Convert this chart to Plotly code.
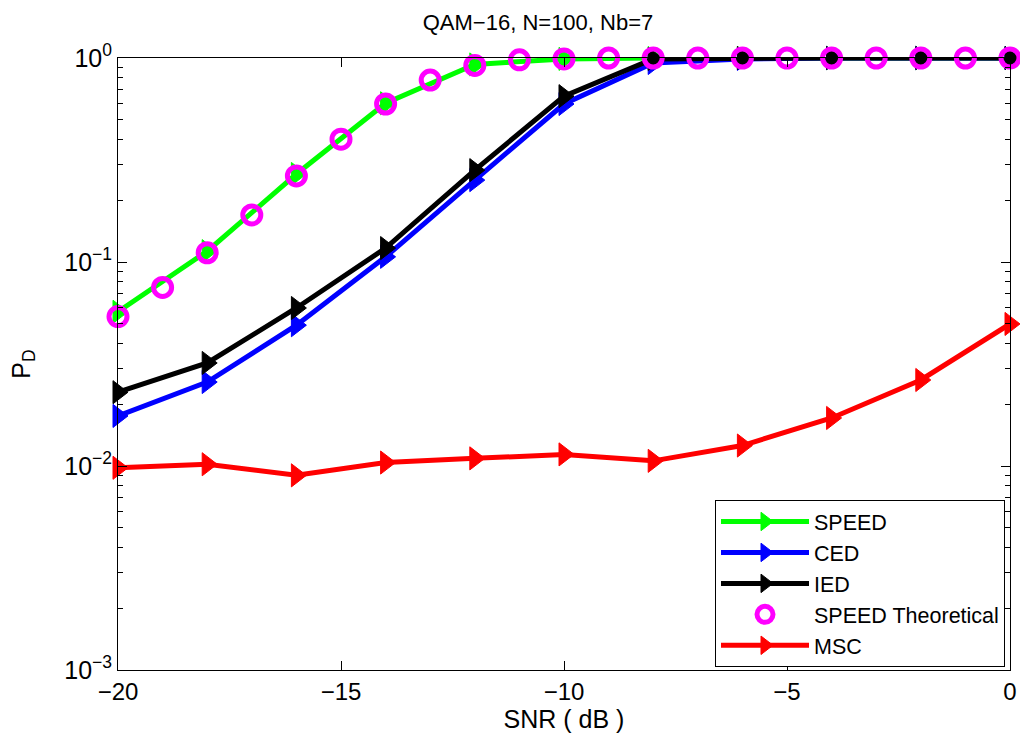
import plotly.graph_objects as go

snr_even = [-20, -18, -16, -14, -12, -10, -8, -6, -4, -2, 0]
snr_all = list(range(-20, 1))

speed = [0.057, 0.113, 0.27, 0.60, 0.93, 0.99, 1.0, 1.0, 1.0, 1.0, 1.0]
ced = [0.0176, 0.0258, 0.049, 0.106, 0.252, 0.595, 0.945, 0.99, 1.0, 1.0, 1.0]
ied = [0.023, 0.032, 0.0595, 0.117, 0.282, 0.65, 0.99, 1.0, 1.0, 1.0, 1.0]
speed_theory = [0.054, 0.075, 0.111, 0.17, 0.264, 0.40, 0.595, 0.78, 0.92, 0.98, 0.99,
                1.0, 1.0, 1.0, 1.0, 1.0, 1.0, 1.0, 1.0, 1.0, 1.0]
msc = [0.0098, 0.0102, 0.0090, 0.0104, 0.0109, 0.0114, 0.0106, 0.0126, 0.0172, 0.0264, 0.0497]

x_ticks = [-20, -15, -10, -5, 0]
x_ticklabels = ["\u221220", "\u221215", "\u221210", "\u22125", "0"]
y_ticks = [1e-3, 1e-2, 1e-1, 1]
y_ticklabels = ["10<sup>\u22123</sup>", "10<sup>\u22122</sup>", "10<sup>\u22121</sup>", "10<sup>0</sup>"]

FONT = "Liberation Sans, Arial, Helvetica, sans-serif"

fig = go.Figure()

def tri(name, y, color):
    fig.add_trace(go.Scatter(
        x=snr_even, y=y, name=name, mode="lines+markers",
        line=dict(color=color, width=5),
        marker=dict(symbol="triangle-right", size=20, color=color,
                    line=dict(color=color, width=1)),
        cliponaxis=False,
    ))

tri("SPEED", speed, "#00ff00")
tri("CED", ced, "#0000ff")
tri("IED", ied, "#000000")
fig.add_trace(go.Scatter(
    x=snr_all, y=speed_theory, name="SPEED Theoretical", mode="markers",
    marker=dict(symbol="circle-open", size=18, color="#ff00ff",
                line=dict(color="#ff00ff", width=5)),
    cliponaxis=False,
))
tri("MSC", msc, "#ff0000")

fig.update_layout(
    width=1020, height=740,
    margin=dict(l=118, r=10, t=58, b=70, autoexpand=False),
    paper_bgcolor="white", plot_bgcolor="white",
    font=dict(family=FONT, size=24, color="black"),
    title=dict(text="QAM\u221216, N=100, Nb=7", x=538 / 1020, xanchor="center",
               y=1 - 22 / 740, yanchor="middle", font=dict(size=22)),
    showlegend=True,
    legend=dict(x=1005 / 1020, xanchor="right", y=(740 - 667) / 740, yanchor="bottom",
                xref="container", yref="container",
                bgcolor="white", bordercolor="black", borderwidth=1,
                font=dict(size=21.5), tracegroupgap=0, itemwidth=88),
)

fig.update_xaxes(
    range=[-20, 0], tickvals=x_ticks, ticktext=x_ticklabels, automargin=False,
    showgrid=False, zeroline=False, showline=True, linecolor="black", linewidth=1,
    mirror="ticks", ticks="inside", ticklen=9, tickcolor="black",
    tickfont=dict(size=24),
    title=dict(text="SNR ( dB )", standoff=0, font=dict(size=25)),
)
fig.update_yaxes(
    type="log", range=[-3, 0], tickvals=y_ticks, ticktext=y_ticklabels, automargin=False,
    showgrid=False, zeroline=False, showline=True, linecolor="black", linewidth=1,
    mirror="ticks", ticks="inside", ticklen=9, tickcolor="black",
    tickfont=dict(size=25),
    minor=dict(ticks="inside", ticklen=5, tickcolor="black", dtick="D1", showgrid=False),
    title=dict(text="P<sub>D</sub>", standoff=26, font=dict(size=25)),
)

fig.write_html("out.html", config={"displayModeBar": False},
               post_script="document.body.style.margin='0';")
